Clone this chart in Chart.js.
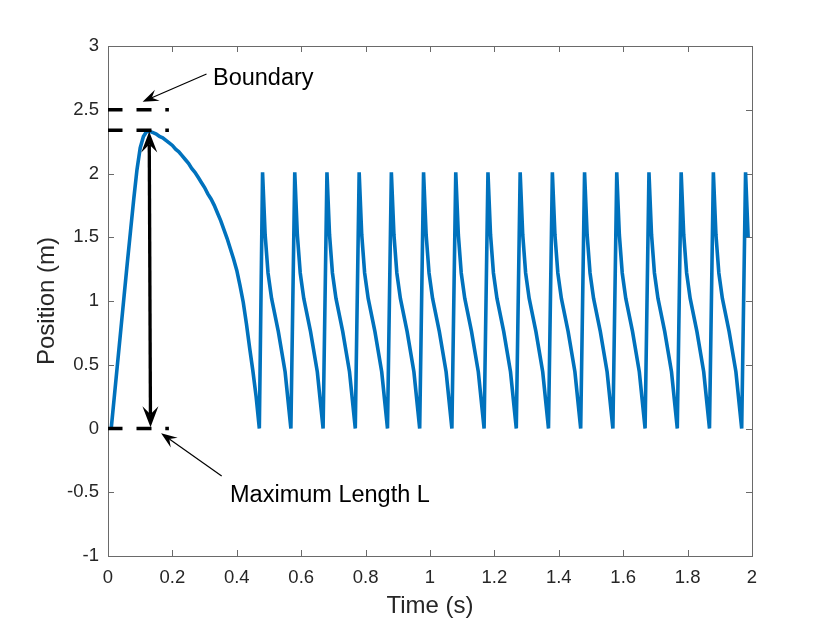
<!DOCTYPE html>
<html><head><meta charset="utf-8">
<script src="https://cdn.jsdelivr.net/npm/chart.js@4/dist/chart.umd.min.js"></script>
<style>html,body{margin:0;padding:0;background:#fff;}#wrap{width:830px;height:623px;}</style>
</head><body><div id="wrap"><canvas id="c" width="830" height="623"></canvas></div>
<script>
// ---- data ----
const timeS = [
 0.01,0.02,0.03,0.04,0.05,0.06,0.07,0.08,0.09,0.10,0.11,0.12,0.13,0.14,0.15,0.16,0.17,0.18,0.19,0.20,
 0.21,0.22,0.23,0.24,0.25,0.26,0.27,0.28,0.29,0.30,0.31,0.32,0.33,0.34,0.35,0.36,0.37,0.38,0.39,0.40,
 0.41,0.42,0.43,0.44,0.45,0.46,0.47,
 0.48,0.488,0.497,0.508,0.529,0.55,0.568,
 0.58,0.588,0.597,0.608,0.629,0.65,0.668,
 0.68,0.688,0.697,0.708,0.729,0.75,0.768,
 0.78,0.788,0.797,0.808,0.829,0.85,0.868,
 0.88,0.888,0.897,0.908,0.929,0.95,0.968,
 0.98,0.988,0.997,1.008,1.029,1.05,1.068,
 1.08,1.088,1.097,1.108,1.129,1.15,1.168,
 1.18,1.188,1.197,1.208,1.229,1.25,1.268,
 1.28,1.288,1.297,1.308,1.329,1.35,1.368,
 1.38,1.388,1.397,1.408,1.429,1.45,1.468,
 1.48,1.488,1.497,1.508,1.529,1.55,1.568,
 1.58,1.588,1.597,1.608,1.629,1.65,1.668,
 1.68,1.688,1.697,1.708,1.729,1.75,1.768,
 1.78,1.788,1.797,1.808,1.829,1.85,1.868,
 1.88,1.888,1.897,1.908,1.929,1.95,1.968,
 1.98,1.988
];
const positionM = [
 0,0.26,0.52,0.78,1.04,1.30,1.55,1.80,2.03,2.20,2.29,2.33,2.33,2.32,2.31,2.29,2.28,2.26,2.24,2.22,
 2.19,2.17,2.14,2.11,2.08,2.04,2.01,1.97,1.93,1.89,1.84,1.80,1.75,1.69,1.63,1.56,1.49,1.41,1.33,1.24,
 1.12,0.99,0.82,0.63,0.45,0.25,0,
 2.01,1.52,1.22,1.02,0.76,0.445,0,
 2.01,1.52,1.22,1.02,0.76,0.445,0,
 2.01,1.52,1.22,1.02,0.76,0.445,0,
 2.01,1.52,1.22,1.02,0.76,0.445,0,
 2.01,1.52,1.22,1.02,0.76,0.445,0,
 2.01,1.52,1.22,1.02,0.76,0.445,0,
 2.01,1.52,1.22,1.02,0.76,0.445,0,
 2.01,1.52,1.22,1.02,0.76,0.445,0,
 2.01,1.52,1.22,1.02,0.76,0.445,0,
 2.01,1.52,1.22,1.02,0.76,0.445,0,
 2.01,1.52,1.22,1.02,0.76,0.445,0,
 2.01,1.52,1.22,1.02,0.76,0.445,0,
 2.01,1.52,1.22,1.02,0.76,0.445,0,
 2.01,1.52,1.22,1.02,0.76,0.445,0,
 2.01,1.52,1.22,1.02,0.76,0.445,0,
 2.01,1.50
];
const guideLevels = [2.5, 2.34, 0];          // Boundary, max reach, ground
const guideSpanX = [0, 0.19];
const lengthArrowTop = [0.128, 2.33];
const lengthArrowBottom = [0.132, 0.01];
const boundaryArrowFrom = [0.306, 2.78], boundaryArrowTo = [0.1075, 2.563];
const lengthLabelArrowFrom = [0.353, -0.373], lengthLabelArrowTo = [0.165, -0.038];
const boundaryLabel = ['Boundary', 0.326, 2.694];
const lengthLabel = ['Maximum Length L', 0.379, -0.574];
const xTickValues = [0,0.2,0.4,0.6,0.8,1,1.2,1.4,1.6,1.8,2];
const xTickLabels = ['0','0.2','0.4','0.6','0.8','1','1.2','1.4','1.6','1.8','2'];
const yTickValues = [-1,-0.5,0,0.5,1,1.5,2,2.5,3];
const yTickLabels = ['-1','-0.5','0','0.5','1','1.5','2','2.5','3'];
const xTitle = 'Time (s)', yTitle = 'Position (m)';

// ---- chart ----
const FONT = "'Liberation Sans', Arial, Helvetica, sans-serif";
const mainData = timeS.map((t, i) => ({x: t, y: positionM[i]}));
const guideSets = guideLevels.map(lv => ({
  data: guideSpanX.map(x => ({x, y: lv})),
  borderColor: '#000', borderWidth: 3.5, borderDash: [14.5, 14, 15, 13.8, 3.6, 40],
  pointRadius: 0, order: 1, borderCapStyle: 'butt'
}));

function arrowHead(ctx, tx, ty, fx, fy, L, W, N) {
  const dx = tx - fx, dy = ty - fy, d = Math.hypot(dx, dy);
  const ux = dx / d, uy = dy / d, nx = -uy, ny = ux;
  const bx = tx - ux * L, by = ty - uy * L;
  ctx.beginPath();
  ctx.moveTo(tx, ty);
  ctx.lineTo(bx + nx * W, by + ny * W);
  ctx.lineTo(tx - ux * N, ty - uy * N);
  ctx.lineTo(bx - nx * W, by - ny * W);
  ctx.closePath();
  ctx.fill();
  return [tx - ux * N, ty - uy * N];
}

const framePlugin = {
  id: 'frame',
  beforeDatasetsDraw(chart) {
    const {ctx, chartArea: a, scales: {x, y}} = chart;
    ctx.save();
    ctx.strokeStyle = '#6a6a6a';
    ctx.lineWidth = 1;
    ctx.strokeRect(a.left + 0.5, a.top + 0.5, a.right - a.left, a.bottom - a.top);
    const tl = 6;
    ctx.beginPath();
    xTickValues.forEach(v => {
      const px = Math.round(x.getPixelForValue(v)) + 0.5;
      ctx.moveTo(px, a.bottom); ctx.lineTo(px, a.bottom - tl);
      ctx.moveTo(px, a.top); ctx.lineTo(px, a.top + tl);
    });
    yTickValues.forEach(v => {
      const py = Math.round(y.getPixelForValue(v)) + 0.5;
      ctx.moveTo(a.left, py); ctx.lineTo(a.left + tl, py);
      ctx.moveTo(a.right, py); ctx.lineTo(a.right - tl, py);
    });
    ctx.stroke();
    ctx.restore();
  },
  afterDatasetsDraw(chart) {
    const {ctx, scales: {x, y}} = chart;
    const P = p => [x.getPixelForValue(p[0]), y.getPixelForValue(p[1])];
    ctx.save();
    ctx.fillStyle = '#000'; ctx.strokeStyle = '#000';
    // double arrow for length L
    const t = P(lengthArrowTop), b = P(lengthArrowBottom);
    const n1 = arrowHead(ctx, t[0], t[1], b[0], b[1], 21, 8, 13);
    const n2 = arrowHead(ctx, b[0], b[1], t[0], t[1], 21, 8, 13);
    ctx.lineWidth = 3.3; ctx.lineCap = 'butt';
    ctx.beginPath(); ctx.moveTo(n1[0], n1[1]); ctx.lineTo(n2[0], n2[1]); ctx.stroke();
    // thin label arrows
    [[boundaryArrowFrom, boundaryArrowTo], [lengthLabelArrowFrom, lengthLabelArrowTo]].forEach(([f, to]) => {
      const F = P(f), T = P(to);
      const n = arrowHead(ctx, T[0], T[1], F[0], F[1], 16, 6, 10);
      ctx.lineWidth = 1.2;
      ctx.beginPath(); ctx.moveTo(F[0], F[1]); ctx.lineTo(n[0], n[1]); ctx.stroke();
    });
    // labels
    ctx.font = '23.5px ' + FONT;
    ctx.textBaseline = 'alphabetic'; ctx.textAlign = 'left';
    [boundaryLabel, lengthLabel].forEach(([txt, lx, ly]) => {
      const p = P([lx, ly]);
      ctx.fillText(txt, p[0], p[1]);
    });
    ctx.restore();
  }
};

new Chart(document.getElementById('c'), {
  type: 'line',
  data: {
    datasets: [
      ...guideSets,
      {data: mainData, borderColor: '#0072BD', borderWidth: 3.6, pointRadius: 0, tension: 0, order: 2, borderJoinStyle: 'miter'}
    ]
  },
  options: {
    responsive: false, animation: false, events: [],
    layout: {padding: {top: 46, right: 78, left: 0, bottom: 0}},
    plugins: {legend: {display: false}, tooltip: {enabled: false}},
    scales: {
      x: {
        type: 'linear', min: 0, max: 2,
        afterBuildTicks: s => { s.ticks = xTickValues.map(v => ({value: v})); },
        afterFit: s => { s.height = 67; },
        ticks: {autoSkip: false, maxRotation: 0, padding: 11, color: '#262626',
          font: {family: FONT, size: 18.5}, callback: (v, i) => xTickLabels[i]},
        grid: {display: false, drawTicks: false}, border: {display: false},
        title: {display: true, text: xTitle, color: '#262626', font: {family: FONT, size: 24}, padding: {top: 0, bottom: 2}}
      },
      y: {
        type: 'linear', min: -1, max: 3,
        afterBuildTicks: s => { s.ticks = yTickValues.map(v => ({value: v})); },
        afterFit: s => { s.width = 108; },
        ticks: {autoSkip: false, padding: 9, color: '#262626',
          font: {family: FONT, size: 18.5}, callback: (v, i) => yTickLabels[i]},
        grid: {display: false, drawTicks: false}, border: {display: false},
        title: {display: true, text: yTitle, color: '#262626', font: {family: FONT, size: 24}, padding: {top: 33, bottom: 0}}
      }
    }
  },
  plugins: [framePlugin]
});
</script></body></html>
